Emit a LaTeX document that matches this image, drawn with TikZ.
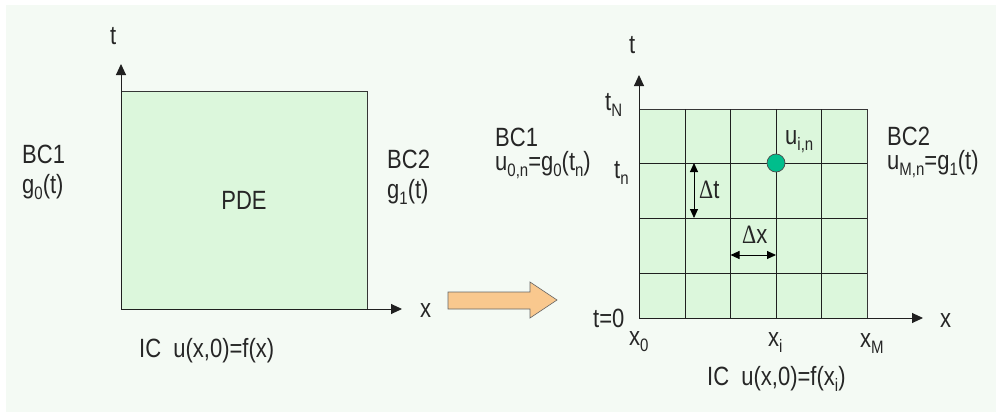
\documentclass[tikz,border=0pt]{standalone}
\usepackage{fontspec}
\setmainfont{Liberation Sans}
\newfontfamily\deltafont{Liberation Serif}
\usetikzlibrary{arrows.meta}
\definecolor{bgc}{HTML}{F4FAF4}
\definecolor{areac}{HTML}{DCF7DC}
\definecolor{orangec}{HTML}{F9C88E}
\definecolor{dotc}{HTML}{00BE8C}
\definecolor{linec}{HTML}{202020}
\newcommand\lo[1]{\raisebox{-0.24em}{\fontsize{15}{15}\selectfont #1}}
\newcommand\Dl{{\deltafont Δ}}
\newcommand\st[1]{\scalebox{1}[1.2]{#1}}
\tikzset{
  every node/.style={font=\fontsize{22}{26}\selectfont, inner sep=0pt, text=black!85},
  lbl/.style={anchor=base west},
  axis/.style={draw=linec, line width=0.9pt, -{Triangle[length=11pt,width=10pt]}},
  dimarrow/.style={draw=black, line width=0.9pt, {Triangle[length=9pt,width=8pt]}-{Triangle[length=9pt,width=8pt]}},
  gridline/.style={draw=linec, line width=0.9pt},
  region/.style={draw=linec!90, line width=0.9pt, fill=areac},
}
\begin{document}
\begin{tikzpicture}[x=1pt,y=-1pt]
\useasboundingbox (0,0) rectangle (997,415);
\fill[white] (0,0) rectangle (997,415);
\fill[bgc] (6,5) rectangle (996,412);

% ---------- left diagram ----------
\node[region, minimum width=246pt, minimum height=218pt] (sq1) at (244,200) {\st{PDE}};
\coordinate (o1) at (121,309);
\coordinate (t1) at (121,64);
\coordinate (x1) at (402,309);
\draw[axis] (o1) -- (t1);
\draw[axis] (o1) -- (x1);
\node[lbl] (tl1) at (110,45) {\st{t}};
\node[lbl] (xl1) at (420,317) {\st{x}};
\node[lbl] (bc1l) at (22,163) {\st{BC1}};
\node[lbl] (g0l) at (22,193) {\st{g\lo{0}(t)}};
\node[lbl] (bc2l) at (387,168) {\st{BC2}};
\node[lbl] (g1l) at (387,198) {\st{g\lo{1}(t)}};
\node[lbl] (icl) at (139,357) {\st{IC\ \ u(x,0)=f(x)}};

% ---------- big arrow ----------
\draw[draw=black!60, line width=0.6pt, fill=orangec]
  (448,292) -- (530,292) -- (530,282) -- (557,300) -- (530,318) -- (530,309) -- (448,309) -- cycle;

% ---------- right diagram ----------
\node[region, minimum width=228pt, minimum height=209pt] (grid) at (753,213.5) {};
\foreach \xx in {685,730.5,776,821.5}
  \draw[gridline] (\xx,109) -- (\xx,318);
\foreach \yy in {163,218,273}
  \draw[gridline] (639,\yy) -- (867,\yy);
\coordinate (o2) at (639,318);
\coordinate (t2) at (639,75);
\coordinate (x2) at (923,318);
\draw[axis] (o2) -- (t2);
\draw[axis] (o2) -- (x2);
\node[lbl] (tl2) at (629,53) {\st{t}};
\node[lbl] (xl2) at (940,327) {\st{x}};
\node[lbl] (tN) at (605,110) {\st{t\lo{N}}};
\node[lbl] (tn) at (614,178) {\st{t\lo{n}}};
\node[lbl] (t0) at (593,327) {\st{t=0}};
\node[lbl] (x0) at (629,345) {\st{x\lo{0}}};
\node[lbl] (xi) at (768,346) {\st{x\lo{i}}};
\node[lbl] (xM) at (860,347) {\st{x\lo{M}}};
\node[circle, draw=black!70, line width=0.7pt, fill=dotc, minimum size=18pt] (uin) at (776,163) {};
\node[lbl] (uinl) at (785,144) {\st{u\lo{i,n}}};
\coordinate (dta) at (694,163);
\coordinate (dtb) at (694,218);
\draw[dimarrow] (dta) -- (dtb);
\node[lbl] (dtl) at (699,198) {\st{\Dl t}};
\coordinate (dxa) at (730.5,255);
\coordinate (dxb) at (776,255);
\draw[dimarrow] (dxa) -- (dxb);
\node[lbl] (dxl) at (742,243) {\st{\Dl x}};
\node[lbl] (bc1r) at (495,146) {\st{BC1}};
\node[lbl] (u0r) at (495,170) {\st{u\lo{0,n}=g\lo{0}(t\lo{n})}};
\node[lbl] (bc2r) at (887,145) {\st{BC2}};
\node[lbl] (uMr) at (887,169) {\st{u\lo{M,n}=g\lo{1}(t)}};
\node[lbl] (icr) at (707,385) {\st{IC\ \ u(x,0)=f(x\lo{i})}};
\end{tikzpicture}
\end{document}
